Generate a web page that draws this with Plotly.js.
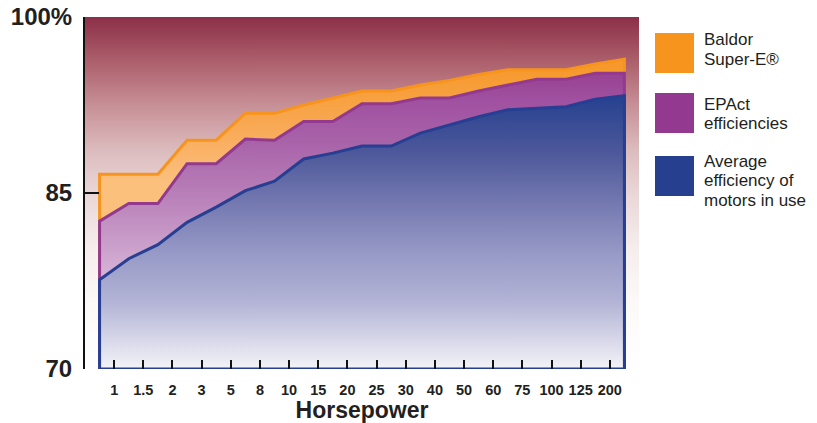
<!DOCTYPE html>
<html>
<head>
<meta charset="utf-8">
<script src="https://cdn.plot.ly/plotly-3.0.1.min.js"></script>
<style>html,body{margin:0;padding:0;background:#fff;}#chart{width:817px;height:423px;}</style>
</head>
<body>
<div id="chart"></div>
<script>
// Horsepower categories (tick labels, one per category)
const horsepower = ['1','1.5','2','3','5','8','10','15','20','25','30','40','50','60','75','100','125','200'];
// Efficiency (%) read at the category boundaries (19 points, left edge of "1" to right edge of "200")
const baldorSuperE = [86.6, 86.6, 86.6, 89.5, 89.5, 91.8, 91.8, 92.5, 93.1, 93.7, 93.7, 94.2, 94.6, 95.1, 95.5, 95.5, 95.5, 96.0, 96.4];
const epactEff     = [82.6, 84.1, 84.1, 87.5, 87.5, 89.6, 89.5, 91.1, 91.1, 92.6, 92.6, 93.1, 93.1, 93.7, 94.2, 94.7, 94.7, 95.2, 95.2];
const avgInUse     = [77.6, 79.4, 80.6, 82.5, 83.8, 85.2, 86.0, 87.9, 88.4, 89.0, 89.0, 90.1, 90.8, 91.5, 92.1, 92.2, 92.35, 93.0, 93.3];
// Axis
const yTickVals = [70, 85, 100];
const yTickText = ['70', '85', '100%'];
const seriesNames = ['Baldor Super-E®', 'EPAct efficiencies', 'Average efficiency of motors in use'];

const Y_MIN = 70, Y_MAX = 100;
const X_MIN = -1, X_MAX = horsepower.length;
const boundaries = baldorSuperE.map((_, i) => i - 0.5);

function polygon(vals) {
  const xs = [boundaries[0]].concat(boundaries, [boundaries[boundaries.length - 1], boundaries[0]]);
  const ys = [Y_MIN].concat(vals, [Y_MIN, Y_MIN]);
  return {x: xs, y: ys};
}

const bg = {
  x: [X_MIN, X_MAX, X_MAX, X_MIN, X_MIN], y: [Y_MIN, Y_MIN, Y_MAX, Y_MAX, Y_MIN],
  type: 'scatter', mode: 'lines', fill: 'toself', line: {width: 0, color: 'rgba(0,0,0,0)'},
  fillgradient: {type: 'vertical', start: Y_MIN, stop: Y_MAX,
    colorscale: [[0,'#ffffff'],[0.2,'#fcf8f8'],[0.35,'#f6ecec'],[0.5,'#ead6d7'],[0.62,'#dcbcbe'],[0.75,'#c78f96'],[0.87,'#ad616d'],[1,'#8c2f48']]},
  hoverinfo: 'skip', showlegend: false
};

const pO = polygon(baldorSuperE), pP = polygon(epactEff), pB = polygon(avgInUse);
const orange = {
  x: pO.x, y: pO.y, name: seriesNames[0], type: 'scatter', mode: 'lines', fill: 'toself',
  line: {color: '#f7941d', width: 3, shape: 'linear'},
  fillgradient: {type: 'vertical', start: 86, stop: 97,
    colorscale: [[0,'#fbc07c'],[0.23,'#fab368'],[0.45,'#f8a852'],[0.64,'#f7a140'],[0.86,'#f69a2e'],[1,'#f6962a']]},
  hoverinfo: 'skip', showlegend: false
};
const purple = {
  x: pP.x, y: pP.y, name: seriesNames[1], type: 'scatter', mode: 'lines', fill: 'toself',
  line: {color: '#933a8f', width: 3},
  fillgradient: {type: 'vertical', start: 77, stop: 96,
    colorscale: [[0,'#d8b6d8'],[0.07,'#d4b0d4'],[0.25,'#c596c5'],[0.44,'#b67cb6'],[0.66,'#a862a8'],[0.84,'#a050a0'],[0.93,'#9a4596'],[1,'#973f93']]},
  hoverinfo: 'skip', showlegend: false
};
const blue = {
  x: pB.x, y: pB.y, name: seriesNames[2], type: 'scatter', mode: 'lines', fill: 'toself',
  line: {color: '#263f92', width: 3},
  fillgradient: {type: 'vertical', start: 70, stop: 93.5,
    colorscale: [[0,'#f3f3f8'],[0.11,'#d6d6e8'],[0.25,'#b1b2d5'],[0.43,'#9598c5'],[0.61,'#7277af'],[0.8,'#4a5699'],[1,'#24408f']]},
  hoverinfo: 'skip', showlegend: false
};

// pixel -> paper helpers for legend placement
const L = 85, R = 639, T = 17, B = 369;
const px = x => (x - L) / (R - L);
const py = y => 1 - (y - T) / (B - T);

const legendColors = ['#f7941d', '#93398f', '#26408f'];
const legendBoxes = [[33, 73], [93, 133], [156, 196]];
const legendLines = [['Baldor', 'Super-E®'], ['EPAct', 'efficiencies'], ['Average', 'efficiency of', 'motors in use']];
const legendLineY = [[40, 59], [104, 123], [162, 181, 200]];

const shapes = [
  {type: 'line', xref: 'x', yref: 'y', x0: X_MIN, x1: X_MAX, y0: Y_MIN, y1: Y_MIN, line: {color: '#111', width: 2}, layer: 'below'}
];
legendBoxes.forEach((b, i) => shapes.push({
  type: 'rect', xref: 'paper', yref: 'paper', x0: px(655), x1: px(694), y0: py(b[1]), y1: py(b[0]),
  fillcolor: legendColors[i], line: {width: 0}
}));
const annotations = [];
legendLines.forEach((lines, i) => lines.forEach((t, j) => annotations.push({
  text: t, xref: 'paper', yref: 'paper', x: px(702), y: py(legendLineY[i][j]),
  xanchor: 'left', yanchor: 'middle', showarrow: false,
  font: {family: 'Liberation Sans, Arial, sans-serif', size: 17, color: '#231f20'}
})));

const layout = {
  width: 817, height: 423,
  margin: {l: L, r: 817 - R, t: T, b: 423 - B, pad: 0},
  paper_bgcolor: '#ffffff', plot_bgcolor: 'rgba(0,0,0,0)',
  showlegend: false,
  xaxis: {
    range: [X_MIN, X_MAX], showgrid: false, zeroline: false, showline: false,
    tickmode: 'array', tickvals: horsepower.map((_, i) => i).concat([horsepower.length]),
    ticktext: horsepower.concat(['']),
    ticks: 'inside', ticklen: 9, tickwidth: 2, tickcolor: '#111',
    ticklabelstandoff: 10,
    tickfont: {family: 'Liberation Sans, Arial, sans-serif', size: 14.5, weight: 700, color: '#231f20'},
    title: {text: 'Horsepower', standoff: 3, font: {family: 'Liberation Sans, Arial, sans-serif', size: 23, weight: 700, color: '#231f20'}},
    fixedrange: true
  },
  yaxis: {
    range: [Y_MIN, Y_MAX], showgrid: false, zeroline: false,
    showline: true, linecolor: '#111', linewidth: 2,
    tickmode: 'array', tickvals: yTickVals, ticktext: yTickText,
    ticks: 'inside', ticklen: 14, tickwidth: 2, tickcolor: '#111',
    ticklabelstandoff: 6,
    tickfont: {family: 'Liberation Sans, Arial, sans-serif', size: 24, weight: 700, color: '#231f20'},
    fixedrange: true
  },
  shapes: shapes,
  annotations: annotations
};

Plotly.newPlot('chart', [bg, orange, purple, blue], layout, {staticPlot: true, displayModeBar: false});
</script>
</body>
</html>
